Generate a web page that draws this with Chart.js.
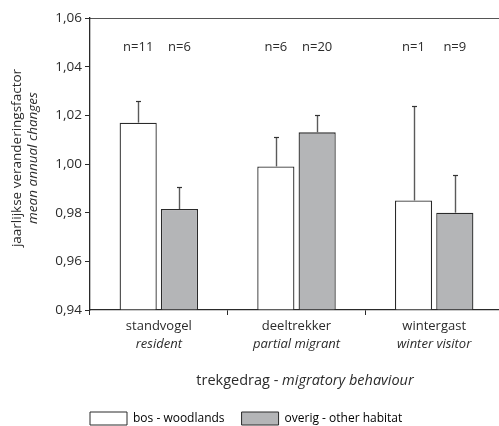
<!DOCTYPE html>
<html>
<head>
<meta charset="utf-8">
<script src="https://cdn.jsdelivr.net/npm/chart.js@4/dist/chart.umd.min.js"></script>
<style>
html,body{margin:0;padding:0;background:#fff;overflow:hidden;}
#wrap{width:503px;height:426px;}
</style>
</head>
<body>
<div id="wrap"><canvas id="c" width="503" height="426"></canvas></div>
<script>
// ---- data ----
const categories = ['standvogel', 'deeltrekker', 'wintergast'];
const categoriesEn = ['resident', 'partial migrant', 'winter visitor'];
const woodlands = [1.017, 0.999, 0.985];
const woodlandsErr = [0.009, 0.012, 0.039];
const otherHabitat = [0.9815, 1.013, 0.980];
const otherHabitatErr = [0.009, 0.007, 0.0155];
const woodlandsN = [11, 6, 1];
const otherHabitatN = [6, 20, 9];
const yTicks = [0.94, 0.96, 0.98, 1.00, 1.02, 1.04, 1.06];
const seriesNames = ['bos - woodlands', 'overig - other habitat'];

const FONT = '"Open Sans", sans-serif';
const TXT = '#2b2b2b';
const LEGEND_PAD = 17;

const decorPlugin = {
  id: 'decor',
  afterLayout(chart) {
    const lg = chart.legend;
    if (lg) {
      lg.left = chart.chartArea.left - LEGEND_PAD;
      lg.top = 412 - LEGEND_PAD;
    }
  },
  afterDatasetsDraw(chart) {
    const ctx = chart.ctx;
    const y = chart.scales.y;
    const x = chart.scales.x;
    const errs = [woodlandsErr, otherHabitatErr];
    const ns = [woodlandsN, otherHabitatN];
    const vals = [woodlands, otherHabitat];
    ctx.save();
    for (let d = 0; d < 2; d++) {
      const meta = chart.getDatasetMeta(d);
      meta.data.forEach((bar, i) => {
        const bx = Math.round(bar.x) + 0.5;
        const top = Math.round(y.getPixelForValue(vals[d][i] + errs[d][i])) + 0.5;
        const base = y.getPixelForValue(vals[d][i]);
        ctx.strokeStyle = '#5a5a5a';
        ctx.lineWidth = 1.4;
        ctx.beginPath();
        ctx.moveTo(bx, base);
        ctx.lineTo(bx, top);
        ctx.stroke();
        ctx.strokeStyle = '#333';
        ctx.lineWidth = 1.2;
        ctx.beginPath();
        ctx.moveTo(bx - 2.5, top);
        ctx.lineTo(bx + 2.5, top);
        ctx.stroke();
        // n labels
        ctx.fillStyle = TXT;
        ctx.font = '13px ' + FONT;
        ctx.textAlign = 'center';
        ctx.textBaseline = 'middle';
        ctx.fillText('n=' + ns[d][i], bar.x, y.getPixelForValue(1.048));
      });
    }
    // x category labels, two lines
    ctx.fillStyle = TXT;
    ctx.textAlign = 'center';
    ctx.textBaseline = 'middle';
    categories.forEach((c, i) => {
      const px = x.getPixelForValue(i);
      ctx.font = '13px ' + FONT;
      ctx.fillText(c, px, 326);
      ctx.font = 'italic 13px ' + FONT;
      ctx.fillText(categoriesEn[i], px, 344);
    });
    // x title
    const t1 = 'trekgedrag - ', t2 = 'migratory behaviour';
    ctx.font = '14.5px ' + FONT;
    const w1 = ctx.measureText(t1).width;
    ctx.font = 'italic 14.5px ' + FONT;
    const w2 = ctx.measureText(t2).width;
    const cx = 305;
    let sx = cx - (w1 + w2) / 2;
    ctx.textAlign = 'left';
    ctx.font = '14.5px ' + FONT;
    ctx.fillText(t1, sx, 381);
    ctx.font = 'italic 14.5px ' + FONT;
    ctx.fillText(t2, sx + w1, 381);
    // y title
    ctx.save();
    ctx.translate(0, 158);
    ctx.rotate(-Math.PI / 2);
    ctx.textAlign = 'center';
    ctx.font = '13.5px ' + FONT;
    ctx.fillText('jaarlijkse veranderingsfactor', 0, 17);
    ctx.font = 'italic 13.5px ' + FONT;
    ctx.fillText('mean annual changes', 0, 33);
    ctx.restore();
    ctx.restore();
  }
};

new Chart(document.getElementById('c'), {
  type: 'bar',
  data: {
    labels: categories,
    datasets: [
      { label: seriesNames[0], data: woodlands, backgroundColor: '#ffffff', borderColor: '#2a2a2a', borderWidth: 1.3, borderSkipped: 'bottom' },
      { label: seriesNames[1], data: otherHabitat, backgroundColor: '#b4b5b7', borderColor: '#2a2a2a', borderWidth: 1.3, borderSkipped: 'bottom' }
    ]
  },
  options: {
    responsive: false,
    animation: false,
    layout: { padding: { top: 18, left: 0, right: 0, bottom: 0 } },
    datasets: { bar: { categoryPercentage: 0.6, barPercentage: 0.9, base: 0.94 } },
    plugins: {
      tooltip: { enabled: false },
      legend: {
        position: 'bottom',
        align: 'start',
        labels: {
          boxWidth: 37, boxHeight: 13, padding: LEGEND_PAD,
          color: TXT, font: { family: FONT, size: 12 },
          generateLabels(chart) {
            return chart.data.datasets.map((ds, i) => ({
              text: ds.label, fillStyle: ds.backgroundColor, strokeStyle: '#2a2a2a',
              lineWidth: 1, hidden: false, datasetIndex: i
            }));
          }
        }
      }
    },
    scales: {
      x: {
        type: 'category',
        position: 'bottom',
        grid: { display: true, offset: true, drawOnChartArea: false, tickLength: 5, color: '#2a2a2a' },
        border: { display: true, color: '#2a2a2a', width: 1.3 },
        ticks: { display: false },
        afterFit(s) { s.height = s.chart.height - 310 - s.chart.legend.height; }
      },
      x2: {
        type: 'category',
        position: 'top',
        labels: categories,
        grid: { display: false },
        border: { display: true, color: '#555', width: 1 },
        ticks: { display: false },
        afterFit(s) { s.height = 0; }
      },
      y: {
        min: 0.94, max: 1.06,
        afterBuildTicks(s) { s.ticks = yTicks.map(v => ({ value: v })); },
        grid: { display: true, drawOnChartArea: false, tickLength: 5, color: '#2a2a2a' },
        border: { display: true, color: '#2a2a2a', width: 1.3 },
        ticks: {
          color: TXT, padding: 3,
          font: { family: FONT, size: 13.5 },
          callback: v => v.toFixed(2).replace('.', ',')
        },
        afterFit(s) { s.width = 90; }
      }
    }
  },
  plugins: [decorPlugin]
});
</script>
</body>
</html>
